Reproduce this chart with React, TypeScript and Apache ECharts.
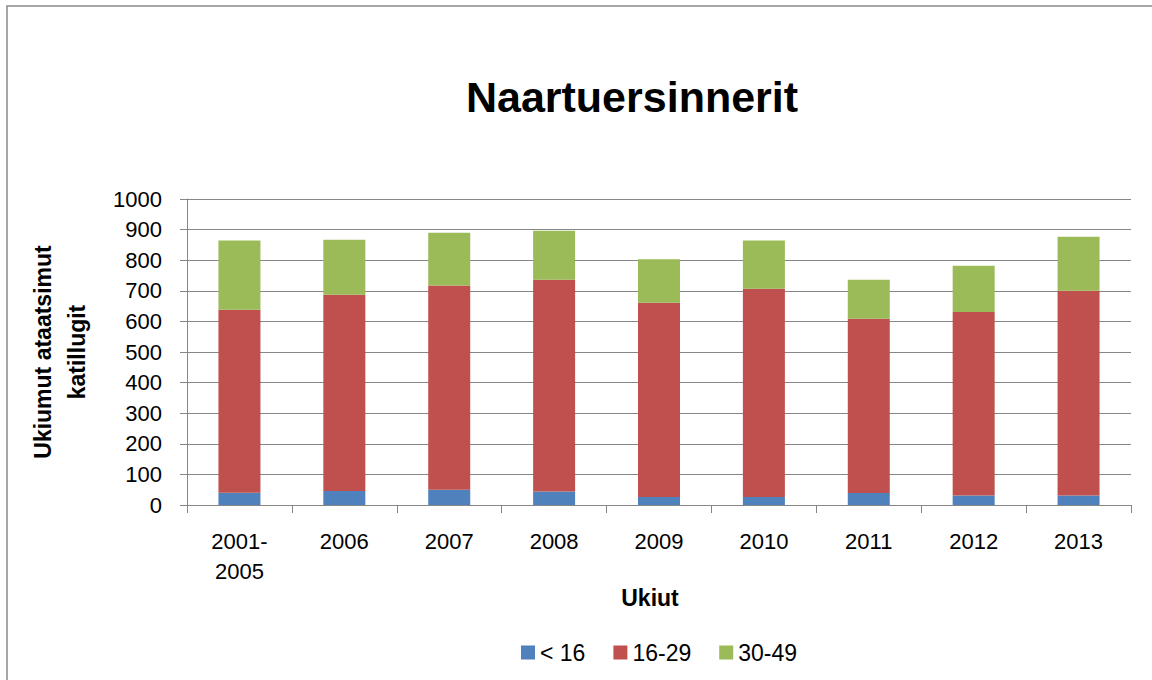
import React, { useEffect, useRef } from "react";
import * as echarts from "echarts";

const categories = ["2001-\n2005", "2006", "2007", "2008", "2009", "2010", "2011", "2012", "2013"];
const under16 = [40, 46, 50, 44, 26, 26, 39, 31, 31];
const age16to29 = [598, 641, 667, 692, 635, 681, 570, 600, 669];
const age30to49 = [226, 180, 173, 160, 142, 157, 127, 151, 177];
const seriesNames = ["< 16", "16-29", "30-49"];
const colors = ["#4F81BD", "#C0504D", "#9BBB59"];

const FONT = "'Liberation Sans', Arial, sans-serif";

export default function App() {
  const ref = useRef<HTMLDivElement>(null);
  useEffect(() => {
    document.body.style.margin = "0";
    const chart = echarts.init(ref.current!, null, { renderer: "svg" });
    chart.setOption({
      animation: false,
      backgroundColor: "#ffffff",
      textStyle: { fontFamily: FONT },
      title: {
        text: "Naartuersinnerit",
        left: 627,
        top: 70,
        textAlign: "center",
        textStyle: { fontFamily: FONT, fontSize: 43, fontWeight: "bold", color: "#000" },
      },
      legend: {
        left: 516,
        top: 636,
        itemWidth: 14,
        itemHeight: 14,
        itemGap: 28,
        icon: "rect",
        textStyle: { fontFamily: FONT, fontSize: 23, color: "#000" },
        data: seriesNames,
      },
      grid: { left: 187, top: 199, right: 21, bottom: 175, containLabel: false },
      xAxis: {
        type: "category",
        data: categories,
        axisLine: { lineStyle: { color: "#868686", width: 1 } },
        axisTick: { show: true, length: 8, alignWithLabel: false, lineStyle: { color: "#868686" } },
        axisLabel: { fontFamily: FONT, fontSize: 22, color: "#000", margin: 21, lineHeight: 30, interval: 0 },
      },
      yAxis: {
        type: "value",
        min: 0,
        max: 1000,
        interval: 100,
        axisLine: { show: true, lineStyle: { color: "#868686", width: 1 } },
        axisTick: { show: true, length: 7, lineStyle: { color: "#868686" } },
        axisLabel: { fontFamily: FONT, fontSize: 22, color: "#000", margin: 25, formatter: (v: number) => String(v) },
        splitLine: { lineStyle: { color: "#868686", width: 1 } },
      },
      series: [under16, age16to29, age30to49].map((d, i) => ({
        name: seriesNames[i],
        type: "bar",
        stack: "total",
        data: d,
        barWidth: 42,
        itemStyle: { color: colors[i] },
      })),
      graphic: [
        {
          type: "rect",
          shape: { x: 7, y: 6, width: 1170, height: 700 },
          style: { fill: "none", stroke: "#888888", lineWidth: 1.5 },
          silent: true,
        },
        {
          type: "text",
          x: 60,
          y: 352,
          rotation: Math.PI / 2,
          style: {
            text: "Ukiumut ataatsimut\nkatillugit",
            fontFamily: FONT,
            fontSize: 23,
            fontWeight: "bold",
            fill: "#000",
            align: "center",
            verticalAlign: "middle",
            lineHeight: 34,
          },
        },
        {
          type: "text",
          x: 650,
          y: 598,
          style: {
            text: "Ukiut",
            fontFamily: FONT,
            fontSize: 23,
            fontWeight: "bold",
            fill: "#000",
            align: "center",
            verticalAlign: "middle",
          },
        },
      ],
    });
    return () => chart.dispose();
  }, []);
  return <div ref={ref} style={{ width: 1152, height: 680 }} />;
}
